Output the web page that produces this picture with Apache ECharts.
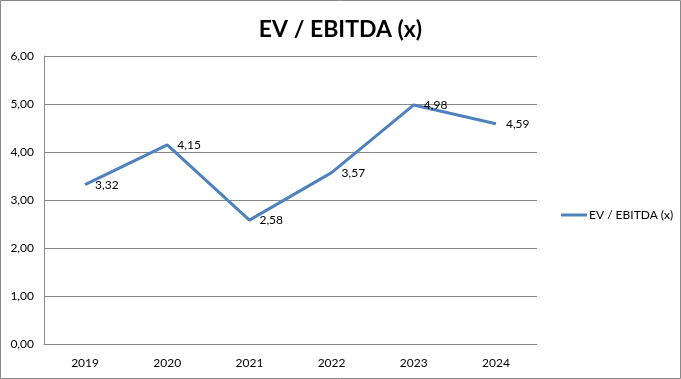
<!DOCTYPE html>
<html><head><meta charset="utf-8">
<script src="https://cdn.jsdelivr.net/npm/echarts@6/dist/echarts.min.js"></script>
<style>html,body{margin:0;padding:0;background:#fff}#c{width:681px;height:379px}</style>
</head><body><div id="c"></div>
<script>
const categories = ['2019','2020','2021','2022','2023','2024'];
const values = [3.32, 4.15, 2.58, 3.57, 4.98, 4.59];
const seriesName = 'EV / EBITDA (x)';
const titleText = 'EV / EBITDA (x)';
const fmt = v => Number(v).toFixed(2).replace('.', ',');
const chart = echarts.init(document.getElementById('c'), null, {renderer:'canvas'});
chart.setOption({
  animation:false,
  backgroundColor:'#fff',
  textStyle:{fontFamily:'Lato, "Open Sans", sans-serif'},
  title:{text:titleText,left:'center',top:13,textStyle:{fontSize:23,fontWeight:'bold',color:'#000',fontFamily:'Lato, sans-serif'}},
  graphic:[{type:'rect',shape:{x:0.5,y:0.5,width:680,height:378},style:{fill:'none',stroke:'#888',lineWidth:1},silent:true}],
  legend:{orient:'vertical',left:556,top:204,itemWidth:26,itemHeight:3,itemGap:4,icon:'rect',
    textStyle:{fontSize:12,color:'#000',padding:[0,0,0,-3]},data:[seriesName]},
  grid:{left:44,top:56,right:144,bottom:35,containLabel:false},
  xAxis:{type:'category',data:categories,boundaryGap:true,
    axisLine:{lineStyle:{color:'#888',width:1}},axisTick:{show:false},
    axisLabel:{color:'#000',fontSize:12,margin:13}},
  yAxis:{type:'value',min:0,max:6,interval:1,
    axisLine:{show:true,lineStyle:{color:'#888',width:1}},axisTick:{show:false},
    splitLine:{lineStyle:{color:'#888',width:1}},
    axisLabel:{color:'#000',fontSize:12,margin:10,formatter:v=>fmt(v)}},
  series:[{name:seriesName,type:'line',data:values,showSymbol:true,symbol:'circle',symbolSize:0,
    lineStyle:{color:'#4F81BD',width:3},itemStyle:{color:'#4F81BD'},
    label:{show:true,position:'right',distance:10,fontSize:12,color:'#000',formatter:p=>fmt(p.value)}}]
});
</script></body></html>
